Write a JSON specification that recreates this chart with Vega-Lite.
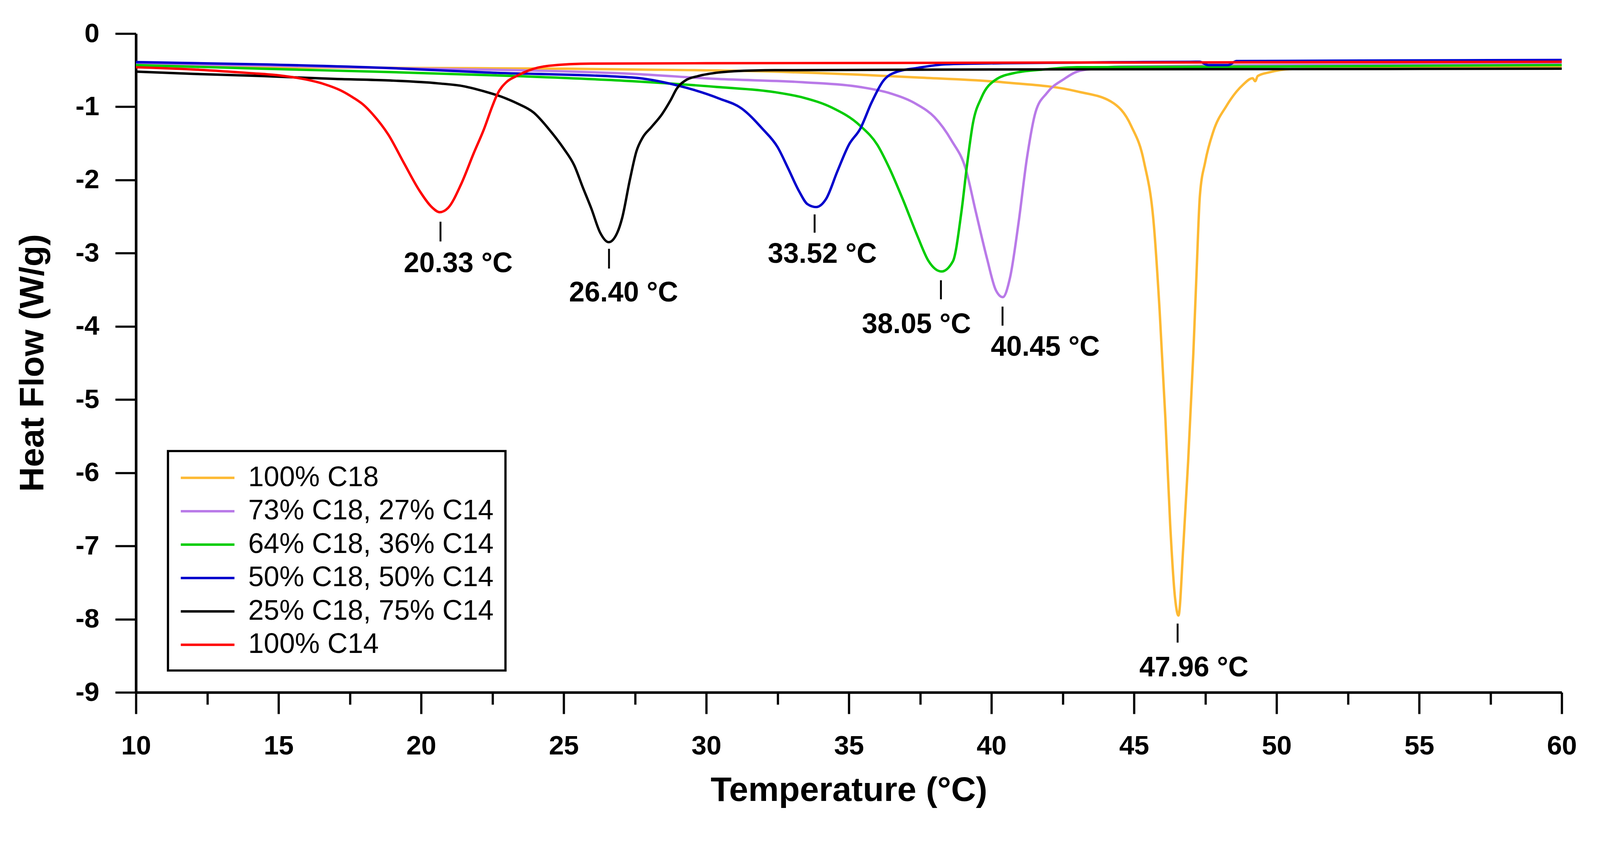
{
  "$schema": "https://vega.github.io/schema/vega-lite/v6.json",
  "width": 3650,
  "height": 1687,
  "autosize": {"type": "none"},
  "padding": {"left": 348, "top": 86, "right": 98, "bottom": 319},
  "background": "white",
  "config": {"view": {"stroke": null}, "font": "Liberation Sans"},
  "datasets": {
    "curves": [
      {"s": "100% C18", "T": 10, "HF": -0.44}, {"s": "100% C18", "T": 15, "HF": -0.46}, {"s": "100% C18", "T": 20, "HF": -0.47},
      {"s": "100% C18", "T": 25, "HF": -0.48}, {"s": "100% C18", "T": 27.4, "HF": -0.49}, {"s": "100% C18", "T": 32.4, "HF": -0.52},
      {"s": "100% C18", "T": 37.4, "HF": -0.6}, {"s": "100% C18", "T": 40.4, "HF": -0.665}, {"s": "100% C18", "T": 43, "HF": -0.79},
      {"s": "100% C18", "T": 44.2, "HF": -0.93}, {"s": "100% C18", "T": 44.9, "HF": -1.26}, {"s": "100% C18", "T": 45.35, "HF": -1.75},
      {"s": "100% C18", "T": 45.7, "HF": -2.63}, {"s": "100% C18", "T": 45.9, "HF": -3.79}, {"s": "100% C18", "T": 46.1, "HF": -5.25},
      {"s": "100% C18", "T": 46.27, "HF": -6.71}, {"s": "100% C18", "T": 46.44, "HF": -7.71}, {"s": "100% C18", "T": 46.56, "HF": -7.95},
      {"s": "100% C18", "T": 46.73, "HF": -7.0}, {"s": "100% C18", "T": 46.9, "HF": -5.84}, {"s": "100% C18", "T": 47.08, "HF": -4.38},
      {"s": "100% C18", "T": 47.2, "HF": -3.21}, {"s": "100% C18", "T": 47.31, "HF": -2.22}, {"s": "100% C18", "T": 47.5, "HF": -1.75},
      {"s": "100% C18", "T": 47.78, "HF": -1.34}, {"s": "100% C18", "T": 48.24, "HF": -0.99}, {"s": "100% C18", "T": 48.82, "HF": -0.7},
      {"s": "100% C18", "T": 49.16, "HF": -0.61}, {"s": "100% C18", "T": 49.25, "HF": -0.65}, {"s": "100% C18", "T": 49.34, "HF": -0.58},
      {"s": "100% C18", "T": 49.74, "HF": -0.53}, {"s": "100% C18", "T": 50.55, "HF": -0.485}, {"s": "100% C18", "T": 55, "HF": -0.47},
      {"s": "100% C18", "T": 60, "HF": -0.46},

      {"s": "73% C18, 27% C14", "T": 10, "HF": -0.41}, {"s": "73% C18, 27% C14", "T": 15, "HF": -0.44}, {"s": "73% C18, 27% C14", "T": 20, "HF": -0.48},
      {"s": "73% C18, 27% C14", "T": 23.3, "HF": -0.5}, {"s": "73% C18, 27% C14", "T": 27.4, "HF": -0.55}, {"s": "73% C18, 27% C14", "T": 30.4, "HF": -0.62},
      {"s": "73% C18, 27% C14", "T": 33.4, "HF": -0.665}, {"s": "73% C18, 27% C14", "T": 35.4, "HF": -0.73}, {"s": "73% C18, 27% C14", "T": 36.4, "HF": -0.81},
      {"s": "73% C18, 27% C14", "T": 37.4, "HF": -0.97}, {"s": "73% C18, 27% C14", "T": 38, "HF": -1.14}, {"s": "73% C18, 27% C14", "T": 38.6, "HF": -1.46},
      {"s": "73% C18, 27% C14", "T": 39.1, "HF": -1.85}, {"s": "73% C18, 27% C14", "T": 39.45, "HF": -2.43}, {"s": "73% C18, 27% C14", "T": 39.85, "HF": -3.08},
      {"s": "73% C18, 27% C14", "T": 40.15, "HF": -3.5}, {"s": "73% C18, 27% C14", "T": 40.4, "HF": -3.6}, {"s": "73% C18, 27% C14", "T": 40.65, "HF": -3.34},
      {"s": "73% C18, 27% C14", "T": 40.95, "HF": -2.59}, {"s": "73% C18, 27% C14", "T": 41.25, "HF": -1.69}, {"s": "73% C18, 27% C14", "T": 41.55, "HF": -1.07},
      {"s": "73% C18, 27% C14", "T": 41.95, "HF": -0.81}, {"s": "73% C18, 27% C14", "T": 42.55, "HF": -0.62}, {"s": "73% C18, 27% C14", "T": 43, "HF": -0.52},
      {"s": "73% C18, 27% C14", "T": 43.6, "HF": -0.48}, {"s": "73% C18, 27% C14", "T": 44.5, "HF": -0.45}, {"s": "73% C18, 27% C14", "T": 50, "HF": -0.43},
      {"s": "73% C18, 27% C14", "T": 60, "HF": -0.41},

      {"s": "64% C18, 36% C14", "T": 10, "HF": -0.43}, {"s": "64% C18, 36% C14", "T": 14.4, "HF": -0.48}, {"s": "64% C18, 36% C14", "T": 18.85, "HF": -0.525},
      {"s": "64% C18, 36% C14", "T": 23.3, "HF": -0.58}, {"s": "64% C18, 36% C14", "T": 27.4, "HF": -0.65}, {"s": "64% C18, 36% C14", "T": 30.4, "HF": -0.73},
      {"s": "64% C18, 36% C14", "T": 32.4, "HF": -0.8}, {"s": "64% C18, 36% C14", "T": 33.4, "HF": -0.875}, {"s": "64% C18, 36% C14", "T": 34.4, "HF": -1.01},
      {"s": "64% C18, 36% C14", "T": 35.4, "HF": -1.26}, {"s": "64% C18, 36% C14", "T": 36, "HF": -1.52}, {"s": "64% C18, 36% C14", "T": 36.4, "HF": -1.82},
      {"s": "64% C18, 36% C14", "T": 36.9, "HF": -2.27}, {"s": "64% C18, 36% C14", "T": 37.4, "HF": -2.76}, {"s": "64% C18, 36% C14", "T": 37.8, "HF": -3.11},
      {"s": "64% C18, 36% C14", "T": 38.25, "HF": -3.25}, {"s": "64% C18, 36% C14", "T": 38.65, "HF": -3.11}, {"s": "64% C18, 36% C14", "T": 38.95, "HF": -2.43},
      {"s": "64% C18, 36% C14", "T": 39.15, "HF": -1.78}, {"s": "64% C18, 36% C14", "T": 39.35, "HF": -1.23}, {"s": "64% C18, 36% C14", "T": 39.65, "HF": -0.875},
      {"s": "64% C18, 36% C14", "T": 40.15, "HF": -0.63}, {"s": "64% C18, 36% C14", "T": 40.85, "HF": -0.535}, {"s": "64% C18, 36% C14", "T": 41.85, "HF": -0.49},
      {"s": "64% C18, 36% C14", "T": 43, "HF": -0.46}, {"s": "64% C18, 36% C14", "T": 50, "HF": -0.45}, {"s": "64% C18, 36% C14", "T": 60, "HF": -0.43},

      {"s": "50% C18, 50% C14", "T": 10, "HF": -0.39}, {"s": "50% C18, 50% C14", "T": 14.4, "HF": -0.42}, {"s": "50% C18, 50% C14", "T": 18.85, "HF": -0.47},
      {"s": "50% C18, 50% C14", "T": 22.2, "HF": -0.53}, {"s": "50% C18, 50% C14", "T": 27.4, "HF": -0.6}, {"s": "50% C18, 50% C14", "T": 29, "HF": -0.71},
      {"s": "50% C18, 50% C14", "T": 30.47, "HF": -0.89}, {"s": "50% C18, 50% C14", "T": 31.23, "HF": -1.02}, {"s": "50% C18, 50% C14", "T": 31.97, "HF": -1.3},
      {"s": "50% C18, 50% C14", "T": 32.5, "HF": -1.55}, {"s": "50% C18, 50% C14", "T": 32.87, "HF": -1.84}, {"s": "50% C18, 50% C14", "T": 33.25, "HF": -2.15},
      {"s": "50% C18, 50% C14", "T": 33.55, "HF": -2.33}, {"s": "50% C18, 50% C14", "T": 33.85, "HF": -2.37}, {"s": "50% C18, 50% C14", "T": 34.2, "HF": -2.26},
      {"s": "50% C18, 50% C14", "T": 34.6, "HF": -1.88}, {"s": "50% C18, 50% C14", "T": 35, "HF": -1.52},
      {"s": "50% C18, 50% C14", "T": 35.4, "HF": -1.3}, {"s": "50% C18, 50% C14", "T": 35.8, "HF": -0.94}, {"s": "50% C18, 50% C14", "T": 36.2, "HF": -0.65},
      {"s": "50% C18, 50% C14", "T": 36.7, "HF": -0.52}, {"s": "50% C18, 50% C14", "T": 37.4, "HF": -0.47}, {"s": "50% C18, 50% C14", "T": 38.4, "HF": -0.42},
      {"s": "50% C18, 50% C14", "T": 40.4, "HF": -0.405}, {"s": "50% C18, 50% C14", "T": 45, "HF": -0.39}, {"s": "50% C18, 50% C14", "T": 47.3, "HF": -0.385},
      {"s": "50% C18, 50% C14", "T": 47.6, "HF": -0.43}, {"s": "50% C18, 50% C14", "T": 48.3, "HF": -0.43}, {"s": "50% C18, 50% C14", "T": 48.6, "HF": -0.375},
      {"s": "50% C18, 50% C14", "T": 52, "HF": -0.37}, {"s": "50% C18, 50% C14", "T": 60, "HF": -0.36},

      {"s": "25% C18, 75% C14", "T": 10, "HF": -0.52}, {"s": "25% C18, 75% C14", "T": 12, "HF": -0.55}, {"s": "25% C18, 75% C14", "T": 14.4, "HF": -0.58},
      {"s": "25% C18, 75% C14", "T": 17, "HF": -0.62}, {"s": "25% C18, 75% C14", "T": 18.85, "HF": -0.64}, {"s": "25% C18, 75% C14", "T": 20.6, "HF": -0.68},
      {"s": "25% C18, 75% C14", "T": 21.5, "HF": -0.72}, {"s": "25% C18, 75% C14", "T": 22.22, "HF": -0.79}, {"s": "25% C18, 75% C14", "T": 22.8, "HF": -0.86},
      {"s": "25% C18, 75% C14", "T": 23.35, "HF": -0.95}, {"s": "25% C18, 75% C14", "T": 23.95, "HF": -1.08}, {"s": "25% C18, 75% C14", "T": 24.47, "HF": -1.3},
      {"s": "25% C18, 75% C14", "T": 25, "HF": -1.57}, {"s": "25% C18, 75% C14", "T": 25.37, "HF": -1.8}, {"s": "25% C18, 75% C14", "T": 25.67, "HF": -2.1},
      {"s": "25% C18, 75% C14", "T": 25.97, "HF": -2.39}, {"s": "25% C18, 75% C14", "T": 26.28, "HF": -2.72}, {"s": "25% C18, 75% C14", "T": 26.58, "HF": -2.85},
      {"s": "25% C18, 75% C14", "T": 26.88, "HF": -2.72}, {"s": "25% C18, 75% C14", "T": 27.05, "HF": -2.52}, {"s": "25% C18, 75% C14", "T": 27.32, "HF": -2.0},
      {"s": "25% C18, 75% C14", "T": 27.55, "HF": -1.61}, {"s": "25% C18, 75% C14", "T": 27.77, "HF": -1.42}, {"s": "25% C18, 75% C14", "T": 28.07, "HF": -1.28},
      {"s": "25% C18, 75% C14", "T": 28.45, "HF": -1.1}, {"s": "25% C18, 75% C14", "T": 28.75, "HF": -0.91}, {"s": "25% C18, 75% C14", "T": 28.97, "HF": -0.75},
      {"s": "25% C18, 75% C14", "T": 29.27, "HF": -0.64}, {"s": "25% C18, 75% C14", "T": 29.72, "HF": -0.58}, {"s": "25% C18, 75% C14", "T": 30.47, "HF": -0.53},
      {"s": "25% C18, 75% C14", "T": 31.2, "HF": -0.51}, {"s": "25% C18, 75% C14", "T": 32.4, "HF": -0.5}, {"s": "25% C18, 75% C14", "T": 40, "HF": -0.49},
      {"s": "25% C18, 75% C14", "T": 50, "HF": -0.485}, {"s": "25% C18, 75% C14", "T": 60, "HF": -0.48},

      {"s": "100% C14", "T": 10, "HF": -0.46}, {"s": "100% C14", "T": 12, "HF": -0.49}, {"s": "100% C14", "T": 14, "HF": -0.54},
      {"s": "100% C14", "T": 15, "HF": -0.57}, {"s": "100% C14", "T": 16, "HF": -0.63}, {"s": "100% C14", "T": 16.6, "HF": -0.69},
      {"s": "100% C14", "T": 17.2, "HF": -0.78}, {"s": "100% C14", "T": 17.6, "HF": -0.87}, {"s": "100% C14", "T": 18, "HF": -0.98},
      {"s": "100% C14", "T": 18.3, "HF": -1.1}, {"s": "100% C14", "T": 18.85, "HF": -1.38}, {"s": "100% C14", "T": 19.4, "HF": -1.77},
      {"s": "100% C14", "T": 19.95, "HF": -2.15}, {"s": "100% C14", "T": 20.4, "HF": -2.38}, {"s": "100% C14", "T": 20.65, "HF": -2.44},
      {"s": "100% C14", "T": 20.95, "HF": -2.38}, {"s": "100% C14", "T": 21.4, "HF": -2.06}, {"s": "100% C14", "T": 21.85, "HF": -1.63},
      {"s": "100% C14", "T": 22.2, "HF": -1.31}, {"s": "100% C14", "T": 22.5, "HF": -0.99}, {"s": "100% C14", "T": 22.67, "HF": -0.83},
      {"s": "100% C14", "T": 23, "HF": -0.66}, {"s": "100% C14", "T": 23.35, "HF": -0.58}, {"s": "100% C14", "T": 23.8, "HF": -0.5},
      {"s": "100% C14", "T": 24.47, "HF": -0.44}, {"s": "100% C14", "T": 25.97, "HF": -0.41}, {"s": "100% C14", "T": 30, "HF": -0.405},
      {"s": "100% C14", "T": 45, "HF": -0.395}, {"s": "100% C14", "T": 60, "HF": -0.385}
    ],
    "peaks": [
      {"T": 20.68, "top": -2.57, "bottom": -2.84, "lx": 21.3, "ly": -3.15, "label": "20.33 °C"},
      {"T": 26.59, "top": -2.94, "bottom": -3.21, "lx": 27.1, "ly": -3.55, "label": "26.40 °C"},
      {"T": 33.8, "top": -2.47, "bottom": -2.72, "lx": 34.07, "ly": -3.02, "label": "33.52 °C"},
      {"T": 38.23, "top": -3.37, "bottom": -3.63, "lx": 37.37, "ly": -3.98, "label": "38.05 °C"},
      {"T": 40.39, "top": -3.73, "bottom": -3.99, "lx": 41.89, "ly": -4.29, "label": "40.45 °C"},
      {"T": 46.53, "top": -8.06, "bottom": -8.32, "lx": 47.1, "ly": -8.67, "label": "47.96 °C"}
    ]
  },
  "layer": [
    {
      "data": {"name": "curves"},
      "mark": {"type": "line", "interpolate": "monotone", "strokeWidth": 6.2},
      "encoding": {
        "x": {
          "field": "T",
          "type": "quantitative",
          "scale": {"domain": [10, 60], "nice": false, "zero": false},
          "axis": {
            "values": [10, 12.5, 15, 17.5, 20, 22.5, 25, 27.5, 30, 32.5, 35, 37.5, 40, 42.5, 45, 47.5, 50, 52.5, 55, 57.5, 60],
            "labelExpr": "datum.value % 5 === 0 ? '' + datum.value : ''",
            "tickSize": {"condition": {"test": "datum.value % 5 === 0", "value": 55}, "value": 31},
            "title": "Temperature (°C)",
            "grid": false,
            "domainColor": "black",
            "domainWidth": 6.7,
            "tickColor": "black",
            "tickWidth": 5.7,
            "labelFontSize": 69,
            "labelFontWeight": "bold",
            "labelColor": "black",
            "labelPadding": 48,
            "labelFlush": false,
            "labelOverlap": false,
            "titleFontSize": 88,
            "titleFontWeight": "bold",
            "titleColor": "black",
            "titleY": 251,
            "titleBaseline": "middle"
          }
        },
        "y": {
          "field": "HF",
          "type": "quantitative",
          "scale": {"domain": [-9, 0], "nice": false, "zero": false},
          "axis": {
            "values": [-9, -8, -7, -6, -5, -4, -3, -2, -1, 0],
            "labelExpr": "'' + datum.value",
            "title": "Heat Flow (W/g)",
            "grid": false,
            "domainColor": "black",
            "domainWidth": 6.7,
            "tickColor": "black",
            "tickWidth": 5.7,
            "tickSize": 53,
            "labelFontSize": 69,
            "labelFontWeight": "bold",
            "labelColor": "black",
            "labelPadding": 41,
            "labelFlush": false,
            "labelOverlap": false,
            "titleFontSize": 88,
            "titleFontWeight": "bold",
            "titleColor": "black",
            "titleX": -264,
            "titleY": 843,
            "titleAngle": 270,
            "titleAlign": "center",
            "titleBaseline": "middle"
          }
        },
        "color": {
          "field": "s",
          "type": "nominal",
          "scale": {
            "domain": ["100% C18", "73% C18, 27% C14", "64% C18, 36% C14", "50% C18, 50% C14", "25% C18, 75% C14", "100% C14"],
            "range": ["#FDB933", "#B97AE8", "#00CC00", "#0000CC", "#000000", "#FF0000"]
          },
          "legend": {
            "title": null,
            "orient": "none",
            "legendX": 82,
            "legendY": 1069,
            "padding": 29.6,
            "strokeColor": "black",
            "symbolType": "M-1,0H2.84",
            "symbolSize": 5120,
            "symbolStrokeWidth": 6.2,
            "labelFontSize": 71.5,
            "labelColor": "black",
            "labelLimit": 2000,
            "labelOffset": 98,
            "rowPadding": 10.5,
            "encode": {"legend": {"update": {"strokeWidth": {"value": 5.7}}}}
          }
        }
      }
    },
    {
      "data": {"name": "peaks"},
      "mark": {"type": "rule", "color": "black", "strokeWidth": 4.8},
      "encoding": {
        "x": {"field": "T", "type": "quantitative"},
        "y": {"field": "top", "type": "quantitative"},
        "y2": {"field": "bottom"}
      }
    },
    {
      "data": {"name": "peaks"},
      "mark": {"type": "text", "fontSize": 71.5, "fontWeight": "bold", "color": "black", "align": "center", "baseline": "middle"},
      "encoding": {
        "x": {"field": "lx", "type": "quantitative"},
        "y": {"field": "ly", "type": "quantitative"},
        "text": {"field": "label"}
      }
    }
  ]
}
